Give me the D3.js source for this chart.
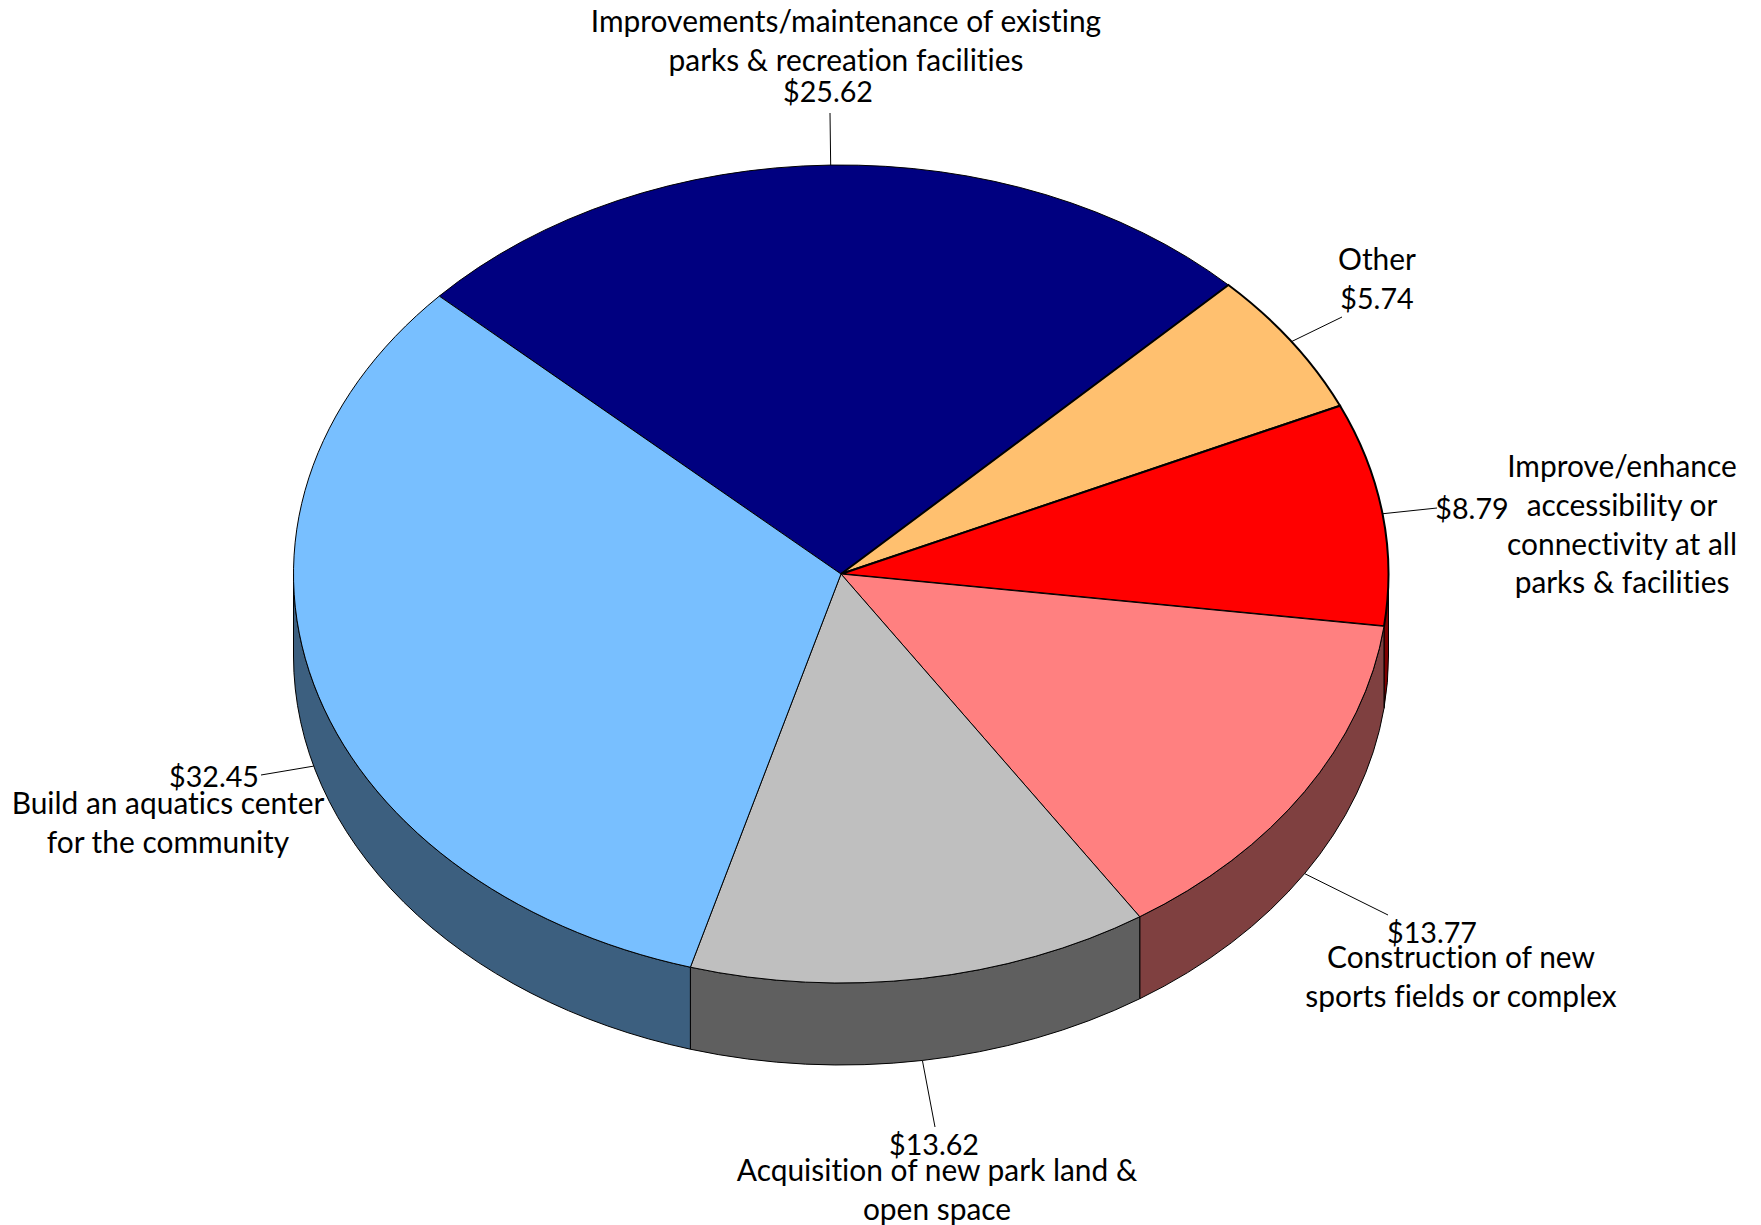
<!DOCTYPE html>
<html>
<head>
<meta charset="utf-8">
<script src="https://cdnjs.cloudflare.com/ajax/libs/d3/7.8.5/d3.min.js"></script>
<style>
html, body { margin: 0; padding: 0; background: #fff; }
text { font-family: Lato, "Open Sans", sans-serif; font-size: 29.9px; font-variant-ligatures: none; fill: #000; text-anchor: middle; dominant-baseline: central; }
text.value { font-size: 28.7px; }
</style>
</head>
<body>
<div id="chart"></div>
<script>
// values, clockwise from the top left edge of the navy slice
var categories = [
    ["Improvements/maintenance of existing", "parks & recreation facilities"],
    ["Other"],
    ["Improve/enhance", "accessibility or", "connectivity at all", "parks & facilities"],
    ["Construction of new", "sports fields or complex"],
    ["Acquisition of new park land &", "open space"],
    ["Build an aquatics center", "for the community"]
];
var values = [25.62, 5.74, 8.79, 13.77, 13.62, 32.45];

var topColors = ["#000080", "#ffc06f", "#ff0000", "#ff8080", "#bfbfbf", "#78bfff"];
var sideColors = ["#000040", "#7f6037", "#7f0000", "#7f4040", "#5f5f5f", "#3c5f7f"];
var strokeWidths = [1, 2, 2, 1, 1, 1];

// where the labels sit: [x, y] of the value, [x, y] of first name line, line end of leader
var valuePos = [[828, 90.5], [1377, 297.5], [1472, 507.5], [1432, 931.5], [934, 1143.5], [214, 775.5]];
var namePos = [[846, 20], [1377, 258], [1622, 465], [1461, 956], [937, 1169], [168, 802]];
var leaderEnd = [[830, 113], [1342, 317], [1437, 508], [1388, 915], [935, 1127], [261, 775]];
var lineGap = 38.8;

var width = 1761,
    height = 1225,
    cx = 841,
    cy = 574,
    rx = 547.5,
    ry = 409,
    depth = 82,
    startAngle = -47.2 * Math.PI / 180;

var svg = d3.select("#chart").append("svg")
    .attr("width", width)
    .attr("height", height)
    .style("display", "block");

var pie = d3.pie()
    .sort(null)
    .startAngle(startAngle)
    .endAngle(startAngle + 2 * Math.PI)
    .value(function(d) { return d; });

var slices = pie(values);

var arc = d3.arc()
    .innerRadius(0)
    .outerRadius(rx);

function px(a) { return cx + rx * Math.sin(a); }
function py(a) { return cy - ry * Math.cos(a); }

// wall of a slice, only the front half of the ellipse can be seen
function wall(d) {
    var a0 = Math.max(d.startAngle, Math.PI / 2),
        a1 = Math.min(d.endAngle, Math.PI * 3 / 2);
    if (a0 >= a1) return null;
    return "M" + px(a0) + "," + py(a0)
        + "A" + rx + "," + ry + " 0 0 1 " + px(a1) + "," + py(a1)
        + "L" + px(a1) + "," + (py(a1) + depth)
        + "A" + rx + "," + ry + " 0 0 0 " + px(a0) + "," + (py(a0) + depth)
        + "Z";
}

svg.append("g").selectAll("path")
    .data(slices)
    .enter().append("path")
    .attr("d", wall)
    .attr("fill", function(d, i) { return sideColors[i]; })
    .attr("stroke", "#000")
    .attr("stroke-width", 1);

svg.append("g")
    .attr("transform", "translate(" + cx + "," + cy + ") scale(1," + (ry / rx) + ")")
    .selectAll("path")
    .data(slices)
    .enter().append("path")
    .attr("d", arc)
    .attr("fill", function(d, i) { return topColors[i]; })
    .attr("stroke", "#000")
    .attr("stroke-width", function(d, i) { return strokeWidths[i]; })
    .attr("vector-effect", "non-scaling-stroke");

// leader lines start at the middle of each slice's outer edge
svg.append("g").selectAll("line")
    .data(slices)
    .enter().append("line")
    .attr("x1", function(d) { return px((d.startAngle + d.endAngle) / 2); })
    .attr("y1", function(d) {
        var mid = (d.startAngle + d.endAngle) / 2;
        return py(mid) + (Math.cos(mid) < 0 ? depth : 0);
    })
    .attr("x2", function(d, i) { return leaderEnd[i][0]; })
    .attr("y2", function(d, i) { return leaderEnd[i][1]; })
    .attr("stroke", "#000")
    .attr("stroke-width", 1);

var labels = svg.append("g");

values.forEach(function(v, i) {
    labels.append("text")
        .attr("class", "value")
        .attr("x", valuePos[i][0])
        .attr("y", valuePos[i][1])
        .text("$" + d3.format(".2f")(v));

    categories[i].forEach(function(line, j) {
        labels.append("text")
            .attr("x", namePos[i][0])
            .attr("y", namePos[i][1] + j * lineGap)
            .text(line);
    });
});
</script>
</body>
</html>
